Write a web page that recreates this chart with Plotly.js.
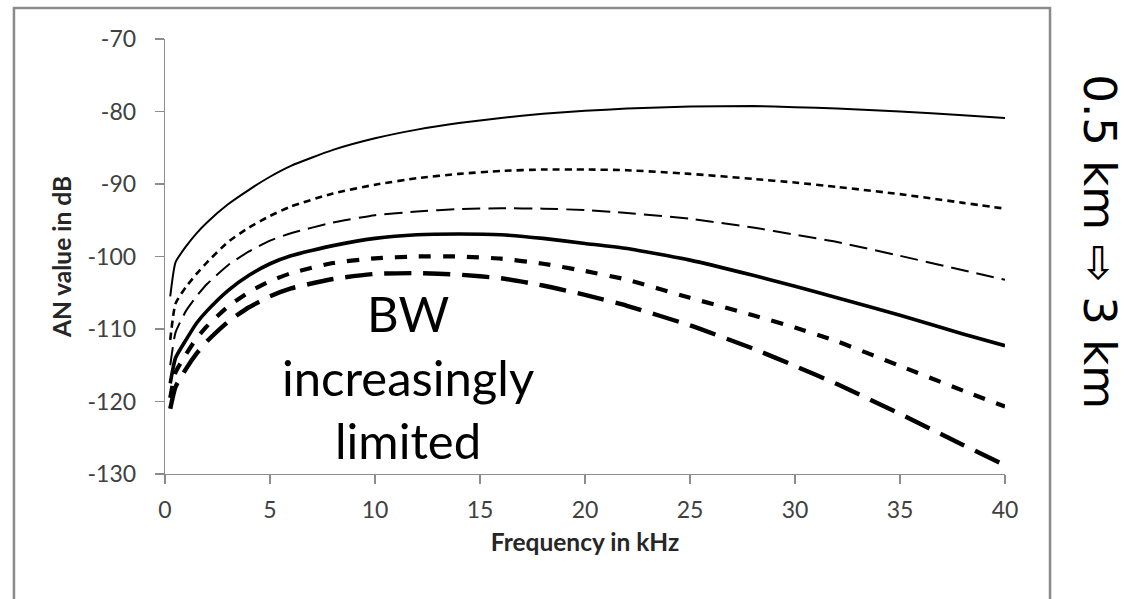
<!DOCTYPE html>
<html>
<head>
<meta charset="utf-8">
<script src="https://cdn.plot.ly/plotly-3.0.1.min.js"></script>
<style>
  html, body { margin: 0; padding: 0; background: #ffffff; }
  #chart { width: 1128px; height: 599px; }
</style>
</head>
<body>
<div id="chart"></div>
<script>
// Frequency grid (kHz) shared by all curves
const freqKHz = [0.25, 0.5, 1, 1.5, 2, 3, 4, 5, 6, 8, 10, 12, 14, 16, 18, 20, 22, 25, 28, 30, 32, 35, 38, 40];

// AN value (dB) per cable length, shortest (0.5 km) to longest (3 km)
const an05km = [-105.5, -100.8, -98.6, -96.8, -95.3, -92.8, -90.8, -89.0, -87.5, -85.3, -83.7, -82.5, -81.6, -80.9, -80.3, -79.9, -79.6, -79.3, -79.25, -79.4, -79.6, -80.0, -80.5, -80.9];
const an10km = [-111.5, -106.5, -104.2, -102.4, -100.8, -98.0, -96.0, -94.4, -93.1, -91.3, -90.1, -89.2, -88.6, -88.2, -88.0, -88.0, -88.1, -88.6, -89.3, -89.8, -90.4, -91.4, -92.6, -93.4];
const an15km = [-115.0, -110.5, -107.5, -105.5, -103.8, -101.2, -99.3, -97.8, -96.8, -95.3, -94.3, -93.8, -93.45, -93.35, -93.4, -93.6, -94.0, -94.8, -96.0, -97.0, -98.0, -99.9, -101.9, -103.2];
const an20km = [-117.5, -114.0, -111.5, -109.2, -107.5, -104.7, -102.6, -101.0, -99.9, -98.5, -97.5, -97.0, -96.9, -97.0, -97.5, -98.2, -98.9, -100.5, -102.6, -104.1, -105.7, -108.1, -110.7, -112.3];
const an25km = [-119.5, -116.0, -113.5, -111.3, -109.6, -106.9, -104.9, -103.4, -102.3, -100.9, -100.25, -100.0, -100.0, -100.3, -101.0, -102.0, -103.2, -105.7, -108.1, -109.8, -111.7, -115.1, -118.5, -120.7];
const an30km = [-121.0, -118.0, -115.5, -113.4, -111.7, -109.0, -107.0, -105.5, -104.4, -103.1, -102.4, -102.3, -102.5, -103.0, -104.0, -105.3, -106.8, -109.5, -112.7, -115.1, -117.6, -121.7, -126.0, -128.8];

const xTicks = [0, 5, 10, 15, 20, 25, 30, 35, 40];
const yTicks = [-130, -120, -110, -100, -90, -80, -70];

const xTitle = 'Frequency in kHz';
const yTitle = 'AN value in dB';
const noteText = 'BW<br>increasingly<br>limited';
// rotated label; the white arrow turns to point down once the text is rotated
const sideText = '0.5 km \u21E8 3 km';

const curveStyles = [
  { width: 2.0, dash: 'solid' },
  { width: 2.6, dash: '7px,5px' },
  { width: 2.0, dash: '18px,8px' },
  { width: 3.6, dash: 'solid' },
  { width: 4.2, dash: '12px,12px' },
  { width: 4.4, dash: '27px,12px' }
];
const curveValues = [an05km, an10km, an15km, an20km, an25km, an30km];

const traces = curveValues.map((vals, i) => ({
  type: 'scatter',
  mode: 'lines',
  x: freqKHz,
  y: vals,
  line: { color: '#000000', width: curveStyles[i].width, dash: curveStyles[i].dash, shape: 'spline', smoothing: 0.5 },
  hoverinfo: 'x+y',
  showlegend: false
}));

const tickFont = { family: 'Lato, "Liberation Sans", sans-serif', size: 23, color: '#404040' };
const titleFont = { family: 'Lato, "Liberation Sans", sans-serif', size: 24.5, color: '#262626', weight: 'bold' };

const layout = {
  width: 1128,
  height: 599,
  margin: { l: 165, r: 123, t: 39, b: 125 },
  paper_bgcolor: '#ffffff',
  plot_bgcolor: '#ffffff',
  showlegend: false,
  xaxis: {
    range: [0, 40],
    tickvals: xTicks,
    ticktext: xTicks.map(String),
    ticks: 'outside',
    ticklen: 9,
    tickwidth: 1.3,
    tickcolor: '#8c8c8c',
    showline: true,
    linecolor: '#8c8c8c',
    linewidth: 1.3,
    showgrid: false,
    zeroline: false,
    tickfont: tickFont,
    ticklabelstandoff: 6,
    title: { text: xTitle, font: titleFont, standoff: 12 }
  },
  yaxis: {
    range: [-130, -70],
    tickvals: yTicks,
    ticktext: yTicks.map(String),
    ticks: 'outside',
    ticklen: 9,
    tickwidth: 1.3,
    tickcolor: '#8c8c8c',
    showline: true,
    linecolor: '#8c8c8c',
    linewidth: 1.3,
    showgrid: false,
    zeroline: false,
    tickfont: tickFont,
    ticklabelstandoff: 14,
    title: { text: yTitle, font: titleFont, standoff: 9 }
  },
  annotations: [
    {
      xref: 'x', yref: 'y',
      x: 11.57, y: -116.6,
      text: noteText,
      showarrow: false,
      xanchor: 'center', yanchor: 'middle',
      align: 'center',
      font: { family: 'Lato, "Liberation Sans", sans-serif', size: 49, color: '#000000' }
    },
    {
      xref: 'paper', yref: 'paper',
      x: 1.1131, y: 0.535,
      text: sideText,
      textangle: 90,
      showarrow: false,
      xanchor: 'center', yanchor: 'middle',
      font: { family: '"DejaVu Sans", sans-serif', size: 45, color: '#000000' }
    }
  ],
  shapes: [
    {
      type: 'rect', xref: 'paper', yref: 'paper',
      x0: -0.1798, x1: 1.0536, y0: -0.34, y1: 1.0713,
      line: { color: '#8a8a8a', width: 2.5 },
      fillcolor: 'rgba(0,0,0,0)',
      layer: 'below'
    }
  ]
};

Plotly.newPlot('chart', traces, layout, { staticPlot: true, displayModeBar: false });
</script>
</body>
</html>
